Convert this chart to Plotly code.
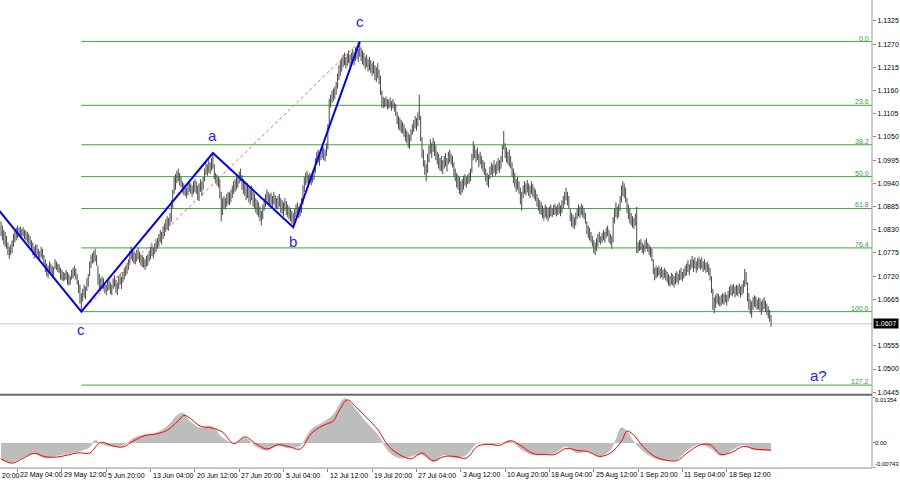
import plotly.graph_objects as go

# ---------------- DATA ----------------
# H4 bar highs / lows in pips (price * 10000), one per bar, left to right
highs = [
10850,10840,10830,10825,10815,10800,10790,10795,10805,10820,
10830,10835,10840,10835,10838,10832,10836,10830,10828,10825,
10820,10815,10805,10800,10790,10795,10795,10785,10780,10790,
10785,10770,10760,10750,10745,10755,10750,10745,10742,10760,
10755,10750,10748,10740,10735,10730,10728,10735,10730,10725,
10720,10735,10740,10745,10738,10725,10710,10700,10680,10690,
10700,10695,10715,10725,10755,10770,10775,10780,10785,10770,
10745,10725,10715,10720,10715,10705,10700,10710,10712,10705,
10700,10715,10722,10712,10705,10720,10725,10718,10730,10740,
10745,10752,10760,10780,10790,10785,10780,10775,10782,10788,
10778,10772,10770,10765,10760,10768,10772,10780,10790,10795,
10788,10798,10805,10810,10820,10830,10825,10838,10845,10855,
10862,10858,10870,10900,10925,10955,10962,10970,10975,10965,
10955,10945,10940,10935,10930,10938,10945,10940,10935,10945,
10950,10945,10935,10940,10950,10945,10955,10975,10990,10985,
10995,10990,11000,11012,10985,10965,10960,10955,10950,10920,
10905,10910,10905,10915,10920,10918,10925,10935,10945,10950,
10955,10960,10968,10975,10960,10950,10945,10935,10940,10930,
10925,10935,10920,10915,10905,10900,10895,10885,10875,10890,
10905,10915,10925,10920,10915,10918,10910,10920,10912,10905,
10910,10915,10905,10900,10895,10905,10898,10890,10885,10880,
10875,10870,10880,10890,10895,10885,10892,10905,10935,10955,
10965,10970,10960,10965,10960,10968,10975,11000,11015,11020,
11010,11022,11030,11025,11020,11035,11080,11140,11150,11160,
11165,11170,11180,11200,11220,11230,11238,11245,11250,11240,
11248,11255,11245,11250,11258,11252,11262,11265,11258,11276,
11262,11255,11250,11240,11245,11235,11240,11232,11225,11230,
11220,11215,11225,11210,11195,11160,11145,11142,11146,11140,
11138,11143,11135,11140,11132,11128,11110,11100,11095,11090,
11085,11080,11070,11065,11060,11055,11068,11080,11090,11100,
11095,11108,11150,11100,11050,11020,10995,10985,11010,11030,
11045,11035,11048,11040,11030,11015,11010,11000,11005,10995,
11005,11012,11000,11015,11020,11010,11005,10990,10975,10965,
10960,10955,10945,10950,10958,10962,10955,10960,10965,10975,
11010,11040,11030,11020,11025,11010,11015,11005,10995,10990,
10975,10965,10960,10980,10990,10985,10995,10985,10992,11000,
10995,11005,11030,11064,11035,11025,11015,11020,11005,10990,
10975,10965,10950,10955,10945,10930,10920,10935,10945,10940,
10948,10940,10935,10945,10938,10930,10925,10915,10905,10900,
10895,10888,10880,10890,10885,10880,10885,10890,10880,10888,
10892,10885,10890,10895,10888,10900,10910,10920,10930,10920,
10910,10880,10870,10865,10860,10870,10880,10890,10885,10892,
10888,10880,10870,10850,10840,10835,10825,10815,10805,10800,
10810,10820,10825,10815,10822,10830,10825,10835,10840,10830,
10820,10815,10860,10880,10895,10885,10890,10910,10935,10945,
10940,10930,10905,10890,10880,10870,10862,10858,10868,10884,
10800,10805,10808,10800,10795,10805,10810,10800,10795,10790,
10785,10760,10740,10745,10740,10745,10738,10742,10735,10740,
10735,10730,10725,10720,10728,10725,10720,10728,10732,10725,
10735,10740,10730,10738,10745,10750,10758,10748,10760,10768,
10760,10765,10755,10762,10766,10760,10765,10755,10760,10752,
10755,10748,10740,10720,10690,10670,10675,10680,10678,10672,
10675,10680,10678,10682,10676,10685,10695,10700,10698,10702,
10695,10700,10698,10703,10696,10700,10710,10737,10730,10705,
10680,10665,10660,10670,10675,10672,10665,10670,10668,10660,
10665,10670,10662,10655,10648,10640,10628]

lows = [
10815,10805,10795,10790,10785,10770,10761,10770,10775,10790,
10800,10805,10810,10815,10812,10810,10815,10808,10805,10800,
10795,10790,10780,10770,10762,10770,10770,10760,10758,10765,
10760,10745,10730,10720,10715,10730,10725,10722,10720,10738,
10735,10730,10728,10712,10710,10708,10710,10712,10700,10698,
10700,10712,10715,10720,10712,10700,10680,10655,10636,10660,
10670,10665,10685,10695,10720,10740,10750,10752,10755,10745,
10700,10690,10685,10690,10690,10680,10675,10685,10688,10678,
10675,10690,10695,10680,10675,10690,10700,10690,10705,10712,
10720,10725,10735,10750,10760,10755,10750,10748,10755,10760,
10752,10745,10742,10740,10735,10742,10745,10755,10760,10768,
10762,10772,10778,10785,10790,10800,10795,10808,10815,10825,
10830,10828,10840,10850,10880,10915,10925,10940,10945,10935,
10930,10918,10912,10910,10905,10912,10920,10915,10908,10915,
10920,10915,10900,10898,10920,10910,10925,10945,10960,10958,
10965,10962,10970,10975,10950,10940,10935,10930,10905,10850,
10865,10880,10878,10885,10890,10888,10895,10905,10915,10920,
10925,10930,10940,10945,10925,10915,10910,10900,10905,10895,
10890,10900,10885,10880,10870,10865,10860,10850,10840,10855,
10875,10885,10895,10890,10885,10888,10880,10890,10882,10878,
10880,10885,10870,10868,10862,10875,10865,10860,10855,10850,
10845,10836,10850,10860,10865,10858,10862,10870,10890,10920,
10935,10940,10930,10940,10935,10942,10948,10965,10985,10990,
10982,10995,11000,10995,10992,11005,11020,11070,11120,11130,
11135,11140,11150,11165,11185,11195,11205,11215,11220,11212,
11218,11225,11215,11222,11228,11220,11230,11235,11228,11240,
11230,11222,11218,11210,11215,11205,11208,11202,11195,11200,
11185,11180,11190,11175,11150,11120,11118,11120,11122,11115,
11117,11120,11112,11118,11110,11100,11080,11068,11065,11060,
11058,11050,11040,11035,11025,11022,11040,11055,11062,11070,
11065,11075,11090,11040,11000,10980,10960,10945,10965,10990,
11010,11000,11015,11005,10995,10985,10975,10970,10968,10962,
10975,10980,10968,10985,10990,10985,10978,10955,10945,10930,
10925,10915,10912,10918,10925,10935,10930,10938,10940,10945,
10965,10995,11000,10990,10995,10978,10985,10975,10968,10960,
10945,10935,10930,10950,10960,10955,10965,10958,10962,10970,
10965,10975,10990,11020,11000,10990,10985,10980,10975,10955,
10940,10930,10920,10925,10915,10890,10875,10905,10915,10912,
10918,10910,10905,10915,10908,10902,10898,10885,10875,10868,
10865,10858,10852,10860,10855,10850,10858,10862,10860,10865,
10866,10862,10865,10868,10862,10870,10880,10890,10900,10888,
10880,10850,10838,10835,10832,10840,10855,10862,10858,10865,
10860,10855,10845,10820,10810,10805,10800,10790,10775,10770,
10780,10790,10800,10795,10800,10805,10800,10810,10815,10800,
10795,10785,10800,10845,10860,10855,10860,10875,10895,10910,
10905,10895,10870,10855,10845,10840,10835,10832,10840,10775,
10775,10780,10782,10775,10772,10778,10785,10778,10770,10765,
10755,10725,10710,10715,10718,10722,10715,10718,10712,10716,
10710,10705,10698,10695,10700,10698,10693,10700,10705,10700,
10710,10712,10708,10715,10720,10722,10730,10722,10735,10740,
10730,10738,10728,10735,10740,10735,10738,10730,10735,10728,
10730,10722,10710,10680,10640,10632,10645,10655,10652,10648,
10650,10655,10652,10658,10650,10660,10668,10675,10672,10678,
10670,10675,10672,10678,10670,10675,10680,10695,10700,10660,
10640,10630,10622,10640,10648,10645,10640,10642,10635,10628,
10638,10642,10635,10628,10620,10612,10600]

last_price = 1.0607

# x-axis date labels (bar index of each label); the first one is only partly on screen
date_idx = [-20, 12, 44, 76, 108, 140, 172, 204, 236, 268, 300, 332, 364, 396, 428, 460, 492, 524]
date_text = ["20:00", "22 May 04:00", "29 May 12:00", "5 Jun 20:00", "13 Jun 04:00",
             "20 Jun 12:00", "27 Jun 20:00", "5 Jul 04:00", "12 Jul 12:00", "19 Jul 20:00",
             "27 Jul 04:00", "3 Aug 12:00", "10 Aug 20:00", "18 Aug 04:00", "25 Aug 12:00",
             "1 Sep 20:00", "11 Sep 04:00", "18 Sep 12:00"]

price_ticks = [1.1325, 1.1270, 1.1215, 1.1160, 1.1105, 1.1050, 1.0995, 1.0940, 1.0885,
               1.0830, 1.0775, 1.0720, 1.0665, 1.0555, 1.0500, 1.0445]

# Elliott wave points (bar index, price) and labels
wave_idx = [-2, 58, 153, 211, 259]
wave_price = [1.0878, 1.0636, 1.1012, 1.0836, 1.1276]
wave_text = ["", "c", "a", "b", "c"]
next_label = "a?"
next_label_pos = (590, 1.0485)

# Fibonacci retracement
fib_low_idx, fib_low = 58, 1.0636
fib_high_idx, fib_high = 259, 1.1276
fib_ratios = [0.0, 23.6, 38.2, 50.0, 61.8, 76.4, 100.0, 127.2]

# MACD (units of 1e-4): histogram (main) and red signal line
hist_idx = [0, 8, 16, 24, 32, 40, 48, 56, 64, 68, 72, 80, 88, 96, 104, 112, 120, 128, 132, 136,
            144, 152, 160, 168, 176, 184, 192, 200, 208, 216, 224, 232, 240, 248, 252, 256, 264,
            272, 280, 288, 296, 304, 312, 320, 328, 336, 344, 352, 360, 368, 376, 384, 392, 400,
            408, 416, 424, 432, 440, 444, 448, 452, 456, 464, 472, 480, 488, 496, 504, 512, 520,
            528, 536, 544, 552, 556]
hist_val = [-50, -58, -42, -32, -45, -38, -32, -25, -12, 8, -2, -10, -8, 15, 25, 30, 50, 85, 88, 65,
            45, 50, 15, 0, 15, -10, -22, -8, -15, -8, 40, 60, 85, 132, 120, 100, 60,
            25, -25, -45, -40, -35, -55, -35, -45, -35, 0, -5, -2, 5, -20, -35, -35, -30,
            -10, -30, -25, -40, -20, 10, 45, 35, 8, -25, -45, -52, -48, -20, -3, -15, -38,
            -20, -5, -20, -22, -20]
sig_idx = [0, 8, 16, 24, 32, 40, 48, 56, 64, 72, 80, 88, 96, 104, 112, 120, 128, 132, 136, 144,
           152, 160, 168, 176, 184, 192, 200, 208, 216, 224, 232, 240, 244, 250, 256, 264, 272,
           280, 288, 296, 304, 312, 320, 328, 336, 344, 352, 360, 368, 376, 384, 392, 400, 408,
           416, 424, 432, 440, 448, 452, 456, 464, 472, 480, 488, 496, 504, 512, 520, 528, 536,
           544, 552, 556]
sig_val = [-47, -60, -45, -31, -41, -42, -36, -29, -30, 2, -8, -12, 7, 22, 27, 38, 66, 82, 75, 50,
           45, 32, -2, 18, -2, -18, -5, -11, -18, 28, 51, 66, 95, 128, 108, 75, 40,
           -10, -35, -47, -30, -53, -40, -40, -45, -10, -4, -7, 7, -10, -31, -34, -34, -16,
           -22, -26, -40, -30, 5, 35, 27, -12, -40, -51, -52, -28, -7, -5, -34, -27, -10,
           -18, -20, -22]
macd_label_text = ["0.01354", "0.00", "-0.00743"]
macd_label_val = [0.01354, 0.0, -0.00743]

# ---------------- FIGURE ----------------
W, H = 900, 485
AX = 872 / W                      # right edge of plot area (paper)
XR = [-0.72, 628.9]               # visible bar-index range
FONT = "Liberation Sans"

n = min(len(highs), len(lows))
bx, by = [], []
for i in range(n):
    bx += [i, i, None]
    by += [lows[i] / 10000, highs[i] / 10000, None]

fig = go.Figure()

fig.add_trace(go.Scatter(x=bx, y=by, mode="lines", line=dict(color="#4a4a4a", width=1),
                         hoverinfo="skip", showlegend=False, xaxis="x", yaxis="y"))

# red dotted Fibonacci baseline
fig.add_trace(go.Scatter(x=[fib_low_idx, fib_high_idx], y=[fib_low, fib_high], mode="lines",
                         line=dict(color="#ff5c5c", width=1, dash="dot"),
                         showlegend=False, xaxis="x", yaxis="y"))

# wave lines
fig.add_trace(go.Scatter(x=wave_idx, y=wave_price, mode="lines",
                         line=dict(color="#0000ff", width=2),
                         showlegend=False, xaxis="x", yaxis="y"))

# MACD histogram + signal
fig.add_trace(go.Scatter(x=hist_idx, y=[v / 10000 for v in hist_val], mode="lines", fill="tozeroy",
                         fillcolor="#bdbdbd", line=dict(color="#bdbdbd", width=0.5, shape="spline"),
                         showlegend=False, xaxis="x2", yaxis="y2"))
fig.add_trace(go.Scatter(x=sig_idx, y=[v / 10000 for v in sig_val], mode="lines",
                         line=dict(color="#ff0000", width=1, shape="spline"),
                         showlegend=False, xaxis="x2", yaxis="y2"))

shapes = []
annotations = []

# Fibonacci levels
for r in fib_ratios:
    lvl = fib_high - r / 100 * (fib_high - fib_low)
    shapes.append(dict(type="line", xref="x", yref="y", x0=fib_low_idx, x1=XR[1], y0=lvl, y1=lvl,
                       line=dict(color="#44a544", width=1), layer="below"))
    annotations.append(dict(xref="paper", yref="y", x=870 / W, y=lvl, xanchor="right",
                            yanchor="bottom", text=f"{r:.1f}", showarrow=False,
                            font=dict(family=FONT, size=7, color="#3c9c3c"), borderpad=0, yshift=-1))

# current price line + box
shapes.append(dict(type="line", xref="paper", yref="y", x0=0, x1=AX, y0=last_price, y1=last_price,
                   line=dict(color="#c8c8c8", width=1), layer="below"))
annotations.append(dict(xref="paper", yref="y", x=AX + 1 / W, y=last_price, xanchor="left",
                        yanchor="middle", text=f"{last_price:.4f}", showarrow=False,
                        bgcolor="#000000", font=dict(family=FONT, size=7, color="#ffffff"),
                        borderpad=1))

# frame lines
shapes.append(dict(type="line", xref="paper", yref="paper", x0=0, x1=AX,
                   y0=1 - 396.5 / H, y1=1 - 396.5 / H, line=dict(color="#6a6a6a", width=2)))
shapes.append(dict(type="line", xref="paper", yref="paper", x0=0, x1=AX,
                   y0=1 - 470 / H, y1=1 - 470 / H, line=dict(color="#8a8a8a", width=1)))
shapes.append(dict(type="line", xref="paper", yref="paper", x0=AX, x1=AX,
                   y0=1 - 470 / H, y1=1, line=dict(color="#9a9a9a", width=1)))

# wave labels
shift_list = [0, -18, 17, -14, 20]
for k in range(1, len(wave_idx)):
    annotations.append(dict(xref="x", yref="y", x=wave_idx[k], y=wave_price[k], text=wave_text[k],
                            showarrow=False, yshift=shift_list[k], xanchor="center", yanchor="middle",
                            font=dict(family=FONT, size=15, color="#2323ff")))
annotations.append(dict(xref="x", yref="y", x=next_label_pos[0], y=next_label_pos[1],
                        text=next_label, showarrow=False,
                        font=dict(family=FONT, size=15, color="#2323ff")))

# date labels
for i, t in zip(date_idx, date_text):
    if i < XR[0]:
        annotations.append(dict(xref="paper", yref="paper", x=0, y=1 - 477 / H, text=t,
                                xanchor="left", yanchor="middle", showarrow=False,
                                font=dict(family=FONT, size=7, color="#000000")))
    else:
        annotations.append(dict(xref="x2", yref="paper", x=i, y=1 - 477 / H, text=t,
                                xanchor="left", yanchor="middle", showarrow=False,
                                font=dict(family=FONT, size=7, color="#000000")))

# MACD labels
macd_px = [402, 445, 466]
for t, py in zip(macd_label_text, macd_px):
    annotations.append(dict(xref="paper", yref="paper", x=874 / W, y=1 - py / H, text=t,
                            xanchor="left", yanchor="middle", showarrow=False, borderpad=0,
                            font=dict(family=FONT, size=6, color="#000000")))

fig.update_layout(
    width=W, height=H, margin=dict(l=0, r=0, t=0, b=0),
    paper_bgcolor="#ffffff", plot_bgcolor="#ffffff", showlegend=False,
    xaxis=dict(domain=[0, AX], range=XR, anchor="y", showticklabels=False, showgrid=False,
               zeroline=False, showline=False, ticks=""),
    yaxis=dict(domain=[1 - 395 / H, 1], range=[1.044231, 1.137456], anchor="x", side="right",
               tickvals=price_ticks, ticktext=[f"{v:.4f}" for v in price_ticks],
               ticks="outside", ticklen=3, tickcolor="#888888", showgrid=False, zeroline=False,
               showline=False, tickfont=dict(family=FONT, size=7, color="#000000")),
    xaxis2=dict(domain=[0, AX], range=XR, anchor="y2", tickvals=date_idx, ticks="outside",
                ticklen=3, tickcolor="#888888", showticklabels=False, showgrid=False,
                zeroline=False, showline=False),
    yaxis2=dict(domain=[1 - 470 / H, 1 - 399 / H], range=[-0.00745, 0.01356], anchor="x2",
                side="right", tickvals=macd_label_val, ticks="outside", ticklen=2,
                tickcolor="#888888", showticklabels=False, showgrid=False, zeroline=False,
                showline=False),
    shapes=shapes, annotations=annotations,
)

fig.write_html("out.html", config={"displayModeBar": False},
               post_script="document.body.style.margin='0px';document.body.style.overflow='hidden';")
